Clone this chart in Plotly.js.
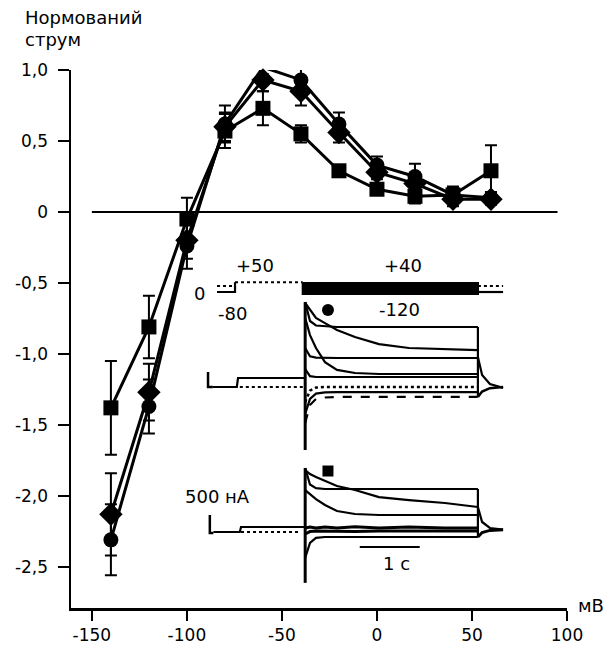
<!DOCTYPE html>
<html>
<head>
<meta charset="utf-8">
<script src="https://cdn.plot.ly/plotly-3.0.1.min.js"></script>
<style>html,body{margin:0;padding:0;background:#fff;}#chart{width:613px;height:648px;}</style>
</head>
<body>
<div id="chart"></div>
<script>
// ---- main I–V data (normalised current vs membrane potential, mV) ----
const voltages = [-140, -120, -100, -80, -60, -40, -20, 0, 20, 40, 60];
const squaresY   = [-1.38, -0.81, -0.05, 0.57, 0.73, 0.55, 0.29, 0.16, 0.11, 0.12, 0.29];
const squaresErr = [0.33, 0.22, 0.15, 0.12, 0.12, 0.06, 0.04, 0.04, 0.05, 0.05, 0.18];
const circlesY   = [-2.31, -1.37, -0.24, 0.62, 1.02, 0.93, 0.62, 0.33, 0.25, 0.12, 0.10];
const circlesErr = [0.25, 0.19, 0.16, 0.13, 0.05, 0.10, 0.08, 0.06, 0.09, 0.06, 0.04];
const diamondsY   = [-2.13, -1.27, -0.20, 0.60, 0.93, 0.85, 0.56, 0.28, 0.20, 0.09, 0.09];
const diamondsErr = [0.29, 0.20, 0.13, 0.10, 0.08, 0.10, 0.07, 0.05, 0.05, 0.05, 0.04];

const xTickVals = [-150, -100, -50, 0, 50, 100];
const xTickText = ['-150', '-100', '-50', '0', '50', '100'];
const yTickVals = [1, 0.5, 0, -0.5, -1, -1.5, -2, -2.5];
const yTickText = ['1,0', '0,5', '0', '-0,5', '-1,0', '-1,5', '-2,0', '-2,5'];

// ---- inset: voltage protocol (time s, mV) ----
const protoHold0T = [0, 0.28];          const protoHold0V = [0, 0];
const protoHoldT  = [0, 0.3, 0.3];      const protoHoldV  = [-80, -80, 50];
const protoPreT   = [0.3, 1.43];        const protoPreV   = [50, 50];
const protoTestT  = [1.43, 4.35, 4.35, 1.43, 1.43];
const protoTestV  = [40, 40, -120, -120, 40];
const protoPostT  = [4.35, 4.77];
const protoPost0V = [0, 0];
const protoPost80V = [-80, -80];

// ---- inset: current traces, time (s) and current (nA, relative to baseline) ----
const testT = [1.47, 1.55, 1.65, 1.8, 2.0, 2.3, 2.7, 3.2, 3.8, 4.35];
const tailT = [4.35, 4.42, 4.55, 4.77];

// traces marked with the circle
const cScaleT = [-0.15, -0.15, -0.07];  const cScaleI = [200, -300, -300];
const cHoldT = [-0.07, 0.33, 0.35, 1.47];  const cHoldI = [-300, -300, 0, 0];
const cDotT = [0.38, 1.43];  const cDotI = [-300, -300];
const cTrace1 = [2530, 1900, 1750, 1720, 1700, 1700, 1700, 1700, 1700, 1700];
const cTrace2 = [2500, 2265, 2000, 1830, 1600, 1365, 1130, 1000, 965, 930];
const cTrace3 = [1000, 720, 680, 667, 667, 667, 667, 667, 667, 667];
const cTrace4 = [2000, 1430, 1000, 530, 270, 167, 133, 133, 133, 133];
const cTrace5 = [300, 60, 33, 33, 33, 33, 33, 33, 33, 33];
const cTrace6 = [-800, -420, -320, -300, -300, -300, -300, -300, -300, -300];
const cTrace7 = [-1200, -700, -520, -480, -470, -470, -470, -470, -470, -470];
const cTrace8 = [-1500, -900, -700, -650, -630, -630, -630, -630, -630, -630];
const cEdgeT = [4.35, 4.35];  const cEdgeI = [1700, -630];
const cTailA = [-630, -450, -340, -300];
const cTailB = [700, 100, -200, -330];
const cCapT = [1.47, 1.47];  const cCapI = [2530, -2400];
const cMarkT = [1.85];  const cMarkI = [2265];

// traces marked with the square
const sScaleT = [-0.12, -0.12, -0.06];  const sScaleI = [430, -170, -170];
const sHoldT = [-0.06, 0.38, 0.4, 1.47];  const sHoldI = [-133, -133, 33, 33];
const sDotT = [0.4, 1.4];  const sDotI = [-133, -133];
const sTrace1 = [2000, 1450, 1330, 1300, 1300, 1300, 1300, 1300, 1300, 1300];
const sTrace2 = [1930, 1800, 1700, 1565, 1400, 1265, 1030, 930, 833, 700];
const sTrace3 = [1265, 1130, 965, 766, 566, 466, 433, 433, 433, 433];
const sTrace4 = [0, 30, 0, 30, 0, 40, 0, 30, 0, 0];
const sTrace5 = [-200, -120, -100, -110, -100, -120, -100, -110, -100, -100];
const sTrace6 = [-1000, -500, -330, -300, -300, -300, -300, -300, -300, -300];
const sEdgeT = [4.35, 4.35];  const sEdgeI = [1300, -300];
const sTailA = [700, 200, 0, -50];
const sTailB = [-300, -150, -80, -60];
const sCapT = [1.47, 1.47];  const sCapI = [2000, -1830];
const sMarkT = [1.85];  const sMarkI = [1900];
const timeBarT = [2.38, 3.38];  const timeBarI = [-633, -633];

const FONT = 'DejaVu Sans, Liberation Sans, Arial, sans-serif';
const K = 'black';

function series(y, err, symbol, size) {
  return {
    x: voltages, y: y, type: 'scatter', mode: 'lines+markers', cliponaxis: false,
    line: {color: K, width: 3},
    marker: {symbol: symbol, size: size, color: K},
    error_y: {type: 'data', array: err, visible: true, color: K, thickness: 2, width: 6},
    showlegend: false, hoverinfo: 'skip'
  };
}
function ln(x, y, ya, opt) {
  opt = opt || {};
  return {
    x: x, y: y, xaxis: 'x2', yaxis: ya, type: 'scatter', mode: 'lines', cliponaxis: false,
    line: {color: K, width: opt.w || 2.2, dash: opt.dash || 'solid'},
    fill: opt.fill || 'none', fillcolor: K,
    showlegend: false, hoverinfo: 'skip'
  };
}

const data = [
  series(squaresY, squaresErr, 'square', 15),
  series(diamondsY, diamondsErr, 'diamond', 18),
  series(circlesY, circlesErr, 'circle', 15),
  // protocol
  ln(protoHold0T, protoHold0V, 'y2', {dash: 'dot'}),
  ln(protoHoldT, protoHoldV, 'y2'),
  ln(protoPreT, protoPreV, 'y2', {dash: 'dot'}),
  ln(protoTestT, protoTestV, 'y2', {fill: 'toself'}),
  ln(protoPostT, protoPost0V, 'y2', {dash: 'dot'}),
  ln(protoPostT, protoPost80V, 'y2'),
  // circle set
  ln(cScaleT, cScaleI, 'y3', {w: 2.5}),
  ln(cHoldT, cHoldI, 'y3'),
  ln(cDotT, cDotI, 'y3', {dash: 'dot'}),
  ln(testT, cTrace1, 'y3'),
  ln(testT, cTrace2, 'y3'),
  ln(testT, cTrace3, 'y3'),
  ln(testT, cTrace4, 'y3'),
  ln(testT, cTrace5, 'y3'),
  ln(testT, cTrace6, 'y3', {dash: 'dot', w: 2.5}),
  ln(testT, cTrace7, 'y3'),
  ln(testT, cTrace8, 'y3', {dash: 'dash'}),
  ln(cEdgeT, cEdgeI, 'y3'),
  ln(tailT, cTailA, 'y3', {w: 2.5}),
  ln(tailT, cTailB, 'y3'),
  ln(cCapT, cCapI, 'y3', {w: 3}),
  {x: cMarkT, y: cMarkI, xaxis: 'x2', yaxis: 'y3', type: 'scatter', mode: 'markers',
   marker: {symbol: 'circle', size: 12, color: K}, showlegend: false, hoverinfo: 'skip'},
  // square set
  ln(sScaleT, sScaleI, 'y4', {w: 2.5}),
  ln(sHoldT, sHoldI, 'y4'),
  ln(sDotT, sDotI, 'y4', {dash: 'dot'}),
  ln(testT, sTrace1, 'y4'),
  ln(testT, sTrace2, 'y4'),
  ln(testT, sTrace3, 'y4'),
  ln(testT, sTrace4, 'y4', {w: 3}),
  ln(testT, sTrace5, 'y4', {w: 3}),
  ln(testT, sTrace6, 'y4'),
  ln(sEdgeT, sEdgeI, 'y4'),
  ln(tailT, sTailA, 'y4'),
  ln(tailT, sTailB, 'y4', {w: 3}),
  ln(sCapT, sCapI, 'y4', {w: 3}),
  ln(timeBarT, timeBarI, 'y4', {w: 2}),
  {x: sMarkT, y: sMarkI, xaxis: 'x2', yaxis: 'y4', type: 'scatter', mode: 'markers',
   marker: {symbol: 'square', size: 11, color: K}, showlegend: false, hoverinfo: 'skip'}
];

function note(text, x, y, xanchor) {
  return {text: text, xref: 'paper', yref: 'paper', x: x, y: y, xanchor: xanchor || 'center',
          yanchor: 'middle', showarrow: false, font: {family: FONT, size: 18, color: K}};
}

const layout = {
  width: 613, height: 648,
  margin: {l: 71, r: 46, t: 70, b: 40},
  paper_bgcolor: 'white', plot_bgcolor: 'white',
  font: {family: FONT, size: 17, color: K},
  showlegend: false,
  xaxis: {
    range: [-161, 100], tickvals: xTickVals, ticktext: xTickText,
    ticks: 'outside', ticklen: 10, tickwidth: 2, tickcolor: K,
    showline: true, linewidth: 2.5, linecolor: K, showgrid: false, zeroline: false,
    tickfont: {family: FONT, size: 17, color: K}
  },
  yaxis: {
    range: [-2.79, 1.0], tickvals: yTickVals, ticktext: yTickText,
    ticks: 'outside', ticklen: 11, tickwidth: 2, tickcolor: K,
    showline: true, linewidth: 2.5, linecolor: K, showgrid: false, zeroline: false,
    tickfont: {family: FONT, size: 17, color: K}, ticklabelstandoff: 6
  },
  xaxis2: {domain: [0.24, 0.905], anchor: 'y2', range: [-0.45, 5.05], visible: false},
  yaxis2: {domain: [0.5706, 0.6152], anchor: 'x2', range: [-200, 120], visible: false},
  yaxis3: {domain: [0.2844, 0.5818], anchor: 'x2', range: [-2567, 2767], visible: false},
  yaxis4: {domain: [0.0335, 0.2751], anchor: 'x2', range: [-2067, 2267], visible: false},
  shapes: [
    {type: 'line', xref: 'x', yref: 'y', x0: -150, x1: 95, y0: 0, y1: 0,
     line: {color: K, width: 2}}
  ],
  annotations: [
    note('Нормований', -0.097, 1.0976, 'left'),
    note('струм', -0.097, 1.0576, 'left'),
    note('мВ', 1.048, 0.004),
    note('+50', 0.371, 0.6375),
    note('+40', 0.669, 0.6375),
    note('0', 0.26, 0.5855),
    note('-80', 0.3246, 0.5483),
    note('-120', 0.663, 0.554),
    note('500 нА', 0.296, 0.208),
    note('1 с', 0.657, 0.0836)
  ]
};

Plotly.newPlot('chart', data, layout, {staticPlot: true, displayModeBar: false});
</script>
</body>
</html>
